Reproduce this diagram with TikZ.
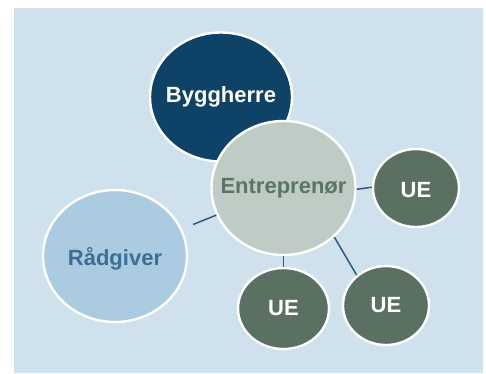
\documentclass[tikz,border=0pt]{standalone}
\usepackage{fontspec}
\setmainfont{Liberation Sans}
\usetikzlibrary{shapes.geometric}

\definecolor{panelblue}{HTML}{CFE1EC}
\definecolor{byggblue}{HTML}{0F4267}
\definecolor{entrfill}{HTML}{BFCCC6}
\definecolor{entrtext}{HTML}{5A7466}
\definecolor{uefill}{HTML}{5A7061}
\definecolor{raadfill}{HTML}{AACBE0}
\definecolor{raadtext}{HTML}{3D6F95}
\definecolor{linkblue}{HTML}{2F5A7E}

\tikzstyle{bubble}=[ellipse, draw=white, line width=2.4pt, inner sep=0pt]
\tikzstyle{word}=[font=\fontsize{22}{26}\selectfont\bfseries, inner sep=0pt]
\tikzstyle{link}=[draw=linkblue, line width=1.5pt]

\begin{document}
\begin{tikzpicture}[x=1pt, y=-1pt]
\useasboundingbox (0,0) rectangle (486,373);
\fill[panelblue] (14,8) rectangle (483,373);

% the parties
\node[bubble, fill=byggblue, minimum width=142pt, minimum height=129pt, label={[word, text=white]center:Byggherre}](bygg) at (221,97) {};
\node[bubble, fill=entrfill, minimum width=144pt, minimum height=134pt, label={[word, text=entrtext]center:Entreprenør}](entr) at (283.5,188) {};
\node[bubble, fill=raadfill, minimum width=144pt, minimum height=132pt, label={[word, text=raadtext, yshift=-3pt]center:Rådgiver}](raad) at (115,256) {};

% underentreprenører
\node[bubble, fill=uefill, minimum width=86pt, minimum height=78pt, label={[word, text=white, yshift=-2pt]center:UE}](ue1) at (416,188) {};
\node[bubble, fill=uefill, minimum width=91pt, minimum height=81pt, label={[word, text=white]center:UE}](ue2) at (283.5,308.5) {};
\node[bubble, fill=uefill, minimum width=86pt, minimum height=79pt, label={[word, text=white]center:UE}](ue3) at (386,305.5) {};

\draw[link, shorten >=12pt] (entr) -- (raad);
\draw[link] (entr.-1) -- (ue1.179);
\draw[link] (entr) -- (ue2);
\draw[link] (entr.-44) -- (ue3.134);
\end{tikzpicture}
\end{document}
